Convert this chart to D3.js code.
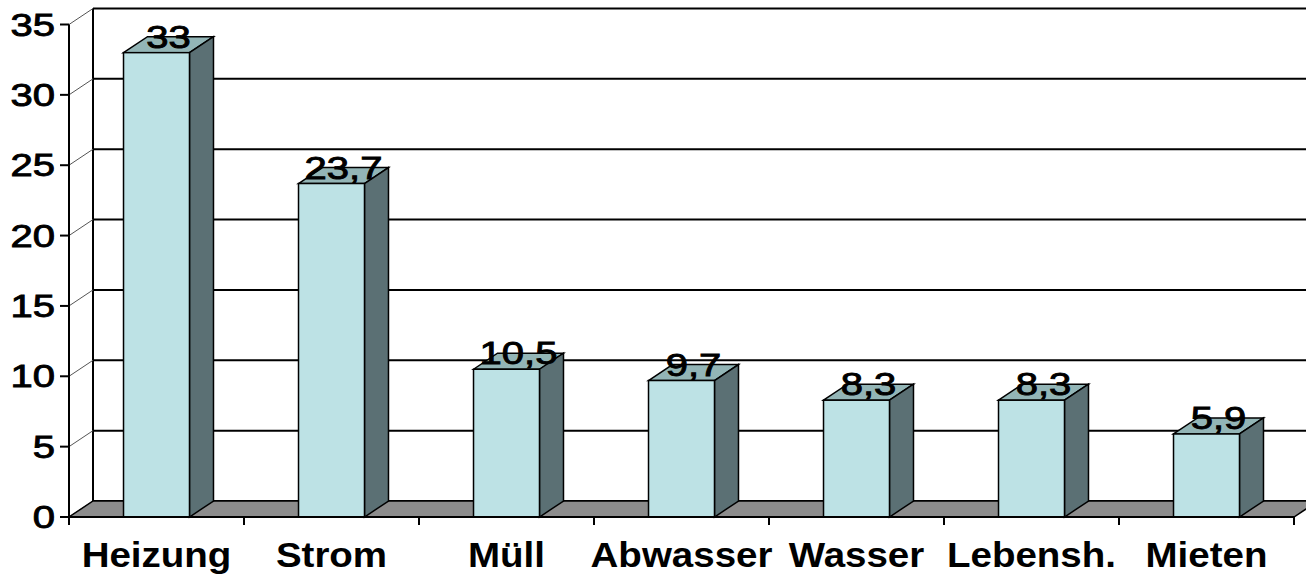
<!DOCTYPE html>
<html>
<head>
<meta charset="utf-8">
<script src="https://cdn.jsdelivr.net/npm/d3@7/dist/d3.min.js"></script>
<style>
  html, body { margin: 0; padding: 0; background: #fff; }
  svg { display: block; }
</style>
</head>
<body>
<div id="chart"></div>
<script>
// chart data
const categories = ['Heizung', 'Strom', 'Müll', 'Abwasser', 'Wasser', 'Lebensh.', 'Mieten'];
const values = [33, 23.7, 10.5, 9.7, 8.3, 8.3, 5.9];
const yTicks = [0, 5, 10, 15, 20, 25, 30, 35];

const width = 1306, height = 574;
// 3d depth offset of the walls / bars
const dx = 24, dy = -16;

const svg = d3.select('#chart').append('svg')
  .attr('width', width)
  .attr('height', height);

const x = d3.scaleBand().domain(categories).range([69, 1294])
  .paddingInner(0.623).paddingOuter(0.3115);
const y = d3.scaleLinear().domain([0, 35]).range([517, 24.5]);

const fmt = v => String(v).replace('.', ',');

// back wall gridlines
svg.append('g').selectAll('line').data(yTicks).join('line')
  .attr('x1', 69 + dx).attr('x2', width)
  .attr('y1', d => y(d) + dy).attr('y2', d => y(d) + dy)
  .attr('stroke', '#000').attr('stroke-width', 2);

// back wall left edge
svg.append('line')
  .attr('x1', 69 + dx).attr('x2', 69 + dx)
  .attr('y1', y(35) + dy).attr('y2', y(0) + dy)
  .attr('stroke', '#000').attr('stroke-width', 2);

// thin diagonals from the axis to the back wall
svg.append('g').selectAll('line').data(yTicks).join('line')
  .attr('x1', 69).attr('x2', 69 + dx)
  .attr('y1', d => y(d)).attr('y2', d => y(d) + dy)
  .attr('stroke', '#555').attr('stroke-width', 1);

// floor
const x0 = x.range()[0], x1 = x.range()[1];
svg.append('path')
  .attr('d', `M${x0},${y(0)} L${x1},${y(0)} L${x1 + dx},${y(0) + dy} L${x0 + dx},${y(0) + dy} Z`)
  .attr('fill', '#8c8c8c').attr('stroke', '#000').attr('stroke-width', 1.5);

// bars
const bars = svg.append('g').selectAll('g').data(values).join('g');
const bw = x.bandwidth();
bars.append('path') // top face
  .attr('d', (d, i) => {
    const bx = x(categories[i]), by = y(d);
    return `M${bx},${by} L${bx + dx},${by + dy} L${bx + bw + dx},${by + dy} L${bx + bw},${by} Z`;
  })
  .attr('fill', '#93b5b6').attr('stroke', '#000').attr('stroke-width', 1.5);
bars.append('path') // side face
  .attr('d', (d, i) => {
    const bx = x(categories[i]) + bw, by = y(d);
    return `M${bx},${by} L${bx + dx},${by + dy} L${bx + dx},${y(0) + dy} L${bx},${y(0)} Z`;
  })
  .attr('fill', '#5b7074').attr('stroke', '#000').attr('stroke-width', 1.5);
bars.append('rect') // front face
  .attr('x', (d, i) => x(categories[i]))
  .attr('y', d => y(d))
  .attr('width', bw)
  .attr('height', d => y(0) - y(d))
  .attr('fill', '#bde2e5').attr('stroke', '#000').attr('stroke-width', 1.5);

// value labels
bars.append('text')
  .attr('transform', (d, i) => `translate(${x(categories[i]) + bw / 2 + dx / 2},${y(d) - 5}) scale(1.25,1)`)
  .attr('text-anchor', 'middle')
  .attr('font-family', '"Liberation Sans", Arial, sans-serif')
  .attr('font-size', 32)
  .attr('fill', '#000')
  .attr('stroke', '#000').attr('stroke-width', 0.9)
  .text(d => fmt(d));

// front y axis
svg.append('line')
  .attr('x1', 69).attr('x2', 69).attr('y1', y(35)).attr('y2', y(0))
  .attr('stroke', '#000').attr('stroke-width', 2);
svg.append('g').selectAll('line').data(yTicks).join('line')
  .attr('x1', 60).attr('x2', 69)
  .attr('y1', d => y(d)).attr('y2', d => y(d))
  .attr('stroke', '#000').attr('stroke-width', 2);
svg.append('g').selectAll('text').data(yTicks).join('text')
  .attr('transform', d => `translate(55,${y(d) + 11}) scale(1.25,1)`)
  .attr('text-anchor', 'end')
  .attr('font-family', '"Liberation Sans", Arial, sans-serif')
  .attr('font-size', 32)
  .attr('fill', '#000')
  .attr('stroke', '#000').attr('stroke-width', 0.9)
  .text(d => d);

// front x axis
svg.append('line')
  .attr('x1', x0).attr('x2', x1).attr('y1', y(0)).attr('y2', y(0))
  .attr('stroke', '#000').attr('stroke-width', 2);
const bounds = d3.range(categories.length + 1).map(i => x0 + i * x.step());
svg.append('g').selectAll('line').data(bounds).join('line')
  .attr('x1', d => d).attr('x2', d => d)
  .attr('y1', y(0)).attr('y2', y(0) + 8)
  .attr('stroke', '#000').attr('stroke-width', 2);
svg.append('g').selectAll('text').data(categories).join('text')
  .attr('transform', d => `translate(${x(d) + bw / 2},567) scale(1.1,1)`)
  .attr('text-anchor', 'middle')
  .attr('font-family', '"Liberation Sans", Arial, sans-serif')
  .attr('font-weight', 'bold')
  .attr('font-size', 35)
  .attr('fill', '#000')
  .text(d => d);
</script>
</body>
</html>
